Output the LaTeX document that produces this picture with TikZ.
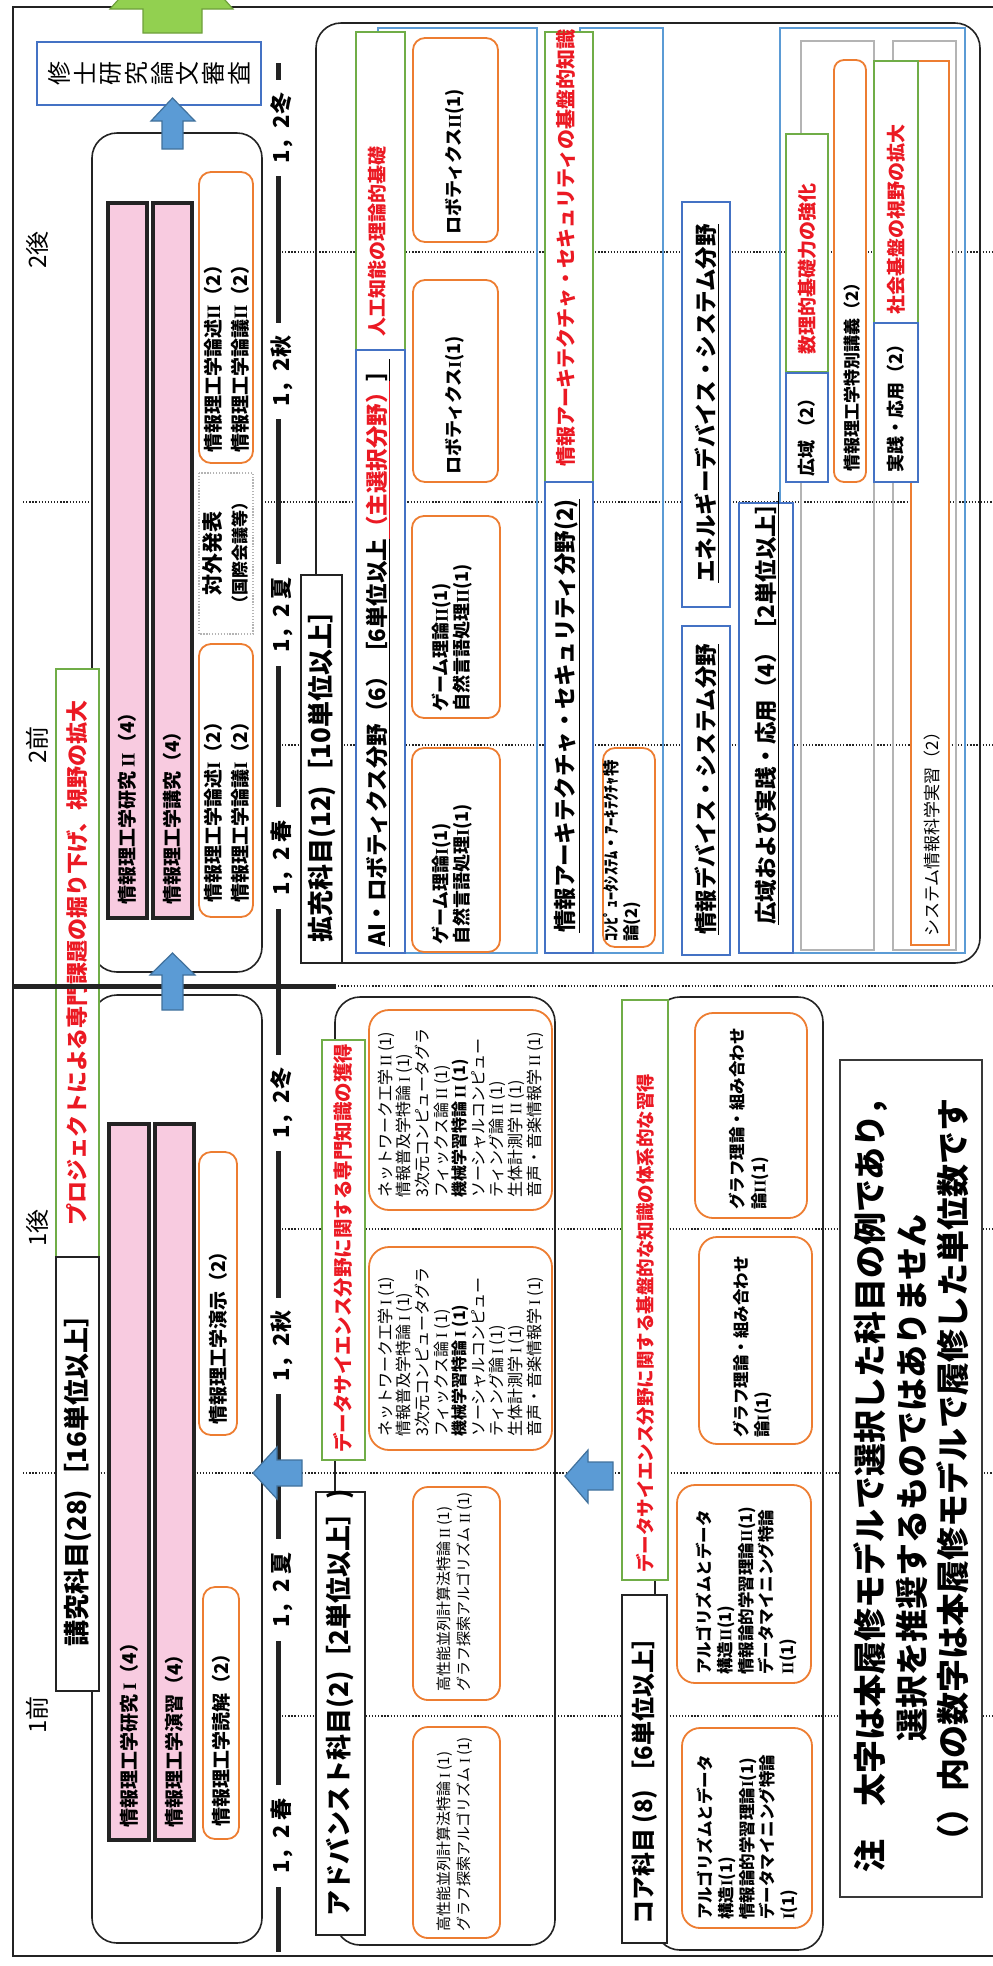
\documentclass[tikz,border=0pt]{standalone}
\usepackage{fontspec}
\setmainfont{Noto Sans CJK JP}
\newfontfamily\rmser{Liberation Serif}
\newcommand\RI{{\rmser I}}
\newcommand\RII{{\rmser II}}
\newcommand\fs[2]{\fontsize{#1}{#2}\selectfont}
\definecolor{org}{RGB}{237,125,49}
\definecolor{grn}{RGB}{112,173,71}
\definecolor{bl}{RGB}{91,155,213}
\definecolor{dbl}{RGB}{68,114,196}
\definecolor{rd}{RGB}{235,25,35}
\definecolor{pnk}{RGB}{248,203,224}
\definecolor{gry}{RGB}{180,180,180}
\definecolor{blk}{RGB}{35,35,35}
\definecolor{arrb}{RGB}{91,155,213}
\definecolor{arrbd}{RGB}{65,113,156}
\definecolor{arrg}{RGB}{146,208,80}
\definecolor{arrgd}{RGB}{110,160,60}
\begin{document}
\begin{tikzpicture}[x=1pt,y=-1pt,
 txt/.style={rotate=90,inner sep=0pt,anchor=west,align=left},
 ctxt/.style={rotate=90,inner sep=0pt,anchor=center,align=center},
 redt/.style={text=rd},
 obox/.style={draw=org,line width=1.8pt,fill=white,rounded corners=#1},
 obox/.default=12pt,
 gbox/.style={draw=grn,line width=2pt,fill=white},
 bbox/.style={draw=dbl,line width=1.6pt,fill=white},
 lbox/.style={draw=bl,line width=1.6pt},
 kbox/.style={draw=blk,line width=1.6pt,fill=white},
 rbox/.style={draw=blk,line width=1.6pt,rounded corners=25pt},
 pbar/.style={draw=blk,line width=3.5pt,fill=pnk},
 gybox/.style={draw=gry,line width=2pt},
 dotl/.style={draw=blk,line width=1.3pt,dash pattern=on 1.3pt off 1.8pt},
 uarr/.style={fill=arrb,draw=arrbd,line width=1.2pt},
 tlab/.style={ctxt,fill=white,inner xsep=13pt,inner ysep=1pt,font=\bfseries\fs{22}{24}},
 sect/.style={txt,font=\bfseries\fs{22.5}{26}},
 grt/.style={txt,redt,font=\bfseries\fs{19}{22}},
]
\useasboundingbox (0,0) rectangle (993,1966);
\clip (0,0) rectangle (993,1966);

% dotted lines
\foreach \yy in {502,1473} \draw[dotl] (23,\yy) -- (993,\yy);
\draw[dotl] (335,986) -- (993,986);
\foreach \yy in {252,745,1229,1716} \draw[dotl] (282,\yy) -- (993,\yy);

% frame
\draw[line width=2.5pt,blk] (993,7) -- (13,7) -- (13,1956) -- (993,1956);

% green arrow and thesis box
\draw[fill=arrg,draw=arrgd,line width=1.2pt] (143,33) -- (143,9) -- (110,9) -- (171.5,-60) -- (233,9) -- (202,9) -- (202,33) -- cycle;
\draw[bbox] (37,42) rectangle (261,105);
\node[ctxt,font=\fs{24}{25.7}] (thesis) at (149,73.5) {修\\士\\研\\究\\論\\文\\審\\査};

% semester labels
\node[ctxt,font=\fs{24}{26}] (l2b) at (37,250) {2後};
\node[ctxt,font=\fs{24}{26}] (l2a) at (37,745) {2前};
\node[ctxt,font=\fs{24}{26}] (l1b) at (37,1228) {1後};
\node[ctxt,font=\fs{24}{26}] (l1a) at (37,1715) {1前};

% kokyu area
\draw[rbox,fill=white] (92,133) rectangle (262,972);
\draw[rbox] (92,995) rectangle (262,1943);
\draw[gbox] (56,669) rectangle (99,1257);
\draw[kbox] (56,1257) rectangle (99,1691);
\node[ctxt,redt,font=\bfseries\fs{22}{24}] (proj) at (77.5,963) {プロジェクトによる専門課題の掘り下げ、視野の拡大};
\node[ctxt,font=\bfseries\fs{26}{28}] (kokyu) at (77.5,1474) {講究科目(28)［16単位以上］};

\draw[pbar] (108,203) rectangle (147,918);
\draw[pbar] (153,203) rectangle (192,918);
\draw[pbar] (109,1124) rectangle (149,1840);
\draw[pbar] (155,1124) rectangle (194,1840);
\node[txt,font=\bfseries\fs{19}{22}] (y2r) at (127.5,905) {情報理工学研究 \RII（4）};
\node[txt,font=\bfseries\fs{19}{22}] (y2k) at (172.5,905) {情報理工学講究（4）};
\node[txt,font=\bfseries\fs{19}{22}] (y1r) at (129,1828) {情報理工学研究 \RI（4）};
\node[txt,font=\bfseries\fs{19}{22}] (y1e) at (174.5,1828) {情報理工学演習（4）};

\draw[obox] (199,172) rectangle (253,463);
\node[txt,font=\bfseries\fs{19}{27}] (ron2) at (226.5,453) {情報理工学論述\RII（2）\\情報理工学論議\RII（2）};
\draw[draw=gry,line width=1.3pt,dash pattern=on 1.3pt off 1.6pt,fill=white] (199,473) rectangle (253,634);
\node[ctxt,font=\bfseries\fs{21}{24}] (taigai) at (213,553) {対外発表};
\node[ctxt,font=\bfseries\fs{17}{20}] (kokusai) at (240,553) {（国際会議等）};
\draw[obox] (199,644) rectangle (253,917);
\node[txt,font=\bfseries\fs{19}{27}] (ron1) at (226.5,903) {情報理工学論述\RI（2）\\情報理工学論議\RI（2）};
\draw[obox] (199,1152) rectangle (237,1435);
\node[txt,font=\bfseries\fs{19}{22}] (enji) at (218,1425) {情報理工学演示（2）};
\draw[obox] (203,1587) rectangle (239,1839);
\node[txt,font=\bfseries\fs{19}{22}] (dokkai) at (221,1827) {情報理工学読解（2）};

% kakuju area
\draw[rbox] (316,23) rectangle (980,963);
\draw[kbox] (301,575) rectangle (342,963);
\node[ctxt,font=\bfseries\fs{26}{28}] (kakuju) at (321.5,770) {拡充科目(12)［10単位以上］};

% AI
\draw[lbox] (378,28) rectangle (537,953);
\draw[gbox] (356,32) rectangle (405,350);
\draw[bbox] (356,350) rectangle (405,953);
\node[grt] (aig) at (377,337) {人工知能の理論的基礎};
\node[sect] (ait) at (378,947) {\underline{AI・ロボティクス分野（6）［6単位以上}\textcolor{rd}{\underline{（主選択分野）}}\underline{］}};
\draw[obox] (413,38) rectangle (498,242);
\node[txt,font=\bfseries\fs{18}{21}] (robo2) at (455,235) {ロボティクス\RII(1)};
\draw[obox] (413,280) rectangle (498,482);
\node[txt,font=\bfseries\fs{18}{21}] (robo1) at (455,475) {ロボティクス\RI(1)};
\draw[obox] (412,516) rectangle (500,718);
\node[txt,font=\bfseries\fs{18}{21}] (game2) at (452.5,712) {ゲーム理論\RII(1)\\自然言語処理\RII(1)};
\draw[obox] (412,748) rectangle (500,952);
\node[txt,font=\bfseries\fs{18}{21}] (game1) at (452.5,945) {ゲーム理論\RI(1)\\自然言語処理\RI(1)};

% Architecture
\draw[lbox] (580,28) rectangle (663,953);
\draw[gbox] (545,32) rectangle (593,482);
\draw[bbox] (545,482) rectangle (593,953);
\node[txt,redt,font=\bfseries\fs{20}{22}] (archg) at (566,467) {情報アーキテクチャ・セキュリティの基盤的知識};
\node[sect] (archt) at (567,933) {\underline{情報アーキテクチャ・セキュリティ分野(2)}};
\draw[obox] (603,748) rectangle (655,947);
\node[txt,font=\bfseries\fs{16.5}{20}] (comp) at (622,942) {ｺﾝﾋﾟｭｰﾀｼｽﾃﾑ・ｱｰｷﾃｸﾁｬ特\\論(2)};

% Devices
\draw[bbox] (682,202) rectangle (730,607);
\node[sect] (energy) at (707,583) {\underline{エネルギーデバイス・システム分野}};
\draw[bbox] (682,626) rectangle (730,955);
\node[sect] (device) at (707,935) {\underline{情報デバイス・システム分野}};

% Wide / practice
\draw[lbox] (780,28) rectangle (965,953);
\draw[gybox] (801,41) rectangle (874,950);
\draw[gybox] (893,41) rectangle (956,950);
\draw[draw=org,line width=1.8pt,fill=white] (911,61) rectangle (949,945);
\node[txt,font=\fs{17}{20}] (jisshu) at (932,937) {システム情報科学実習（2）};
\draw[bbox] (739,503) rectangle (793,953);
\node[sect] (widet) at (767,925) {\underline{広域および実践・応用（4）［2単位以上］}};
\draw[gbox] (786,134) rectangle (828,372);
\draw[bbox] (786,373) rectangle (828,482);
\node[grt] (suri) at (807,355) {数理的基礎力の強化};
\node[txt,font=\bfseries\fs{18}{20}] (koiki) at (807,477) {広域 （2）};
\draw[obox=10pt] (834,60) rectangle (866,482);
\node[txt,font=\bfseries\fs{17}{20}] (tokubetsu) at (852,472) {情報理工学特別講義（2）};
\draw[gbox] (874,61) rectangle (918,323);
\draw[bbox] (874,323) rectangle (918,482);
\node[grt] (shakai) at (896,315) {社会基盤の視野の拡大};
\node[txt,font=\bfseries\fs{18}{20}] (jissen) at (896,473) {実践・応用（2）};

% DS / advanced
\draw[rbox] (335,997) rectangle (555,1945);
\draw[gbox] (322,1040) rectangle (365,1460);
\node[txt,redt,font=\bfseries\fs{19.5}{22}] (dsg) at (343,1453) {データサイエンス分野に関する専門知識の獲得};
\draw[kbox] (316,1492) rectangle (365,1935);
\node[txt,font=\bfseries\fs{26}{28}] (adt) at (340,1917) {アドバンスト科目(2)［2単位以上］)};
\draw[obox=20pt] (369,1010) rectangle (552,1210);
\node[txt,font=\fs{16}{18.6}] (ds2) at (460.5,1198) {ネットワーク工学 \RII{} (1)\\情報普及学特論 \RI{} (1)\\3次元コンピュータグラ\\フィックス論 \RII{} (1)\\{\bfseries 機械学習特論 \RII{} (1)}\\ソーシャルコンピュー\\ティング論 \RII{} (1)\\生体計測学 \RII{} (1)\\音声・音楽情報学 \RII{} (1)};
\draw[obox=20pt] (369,1247) rectangle (552,1450);
\node[txt,font=\fs{16}{18.6}] (ds1) at (460.5,1437) {ネットワーク工学 \RI{} (1)\\情報普及学特論 \RI{} (1)\\3次元コンピュータグラ\\フィックス論 \RI{} (1)\\{\bfseries 機械学習特論 \RI{} (1)}\\ソーシャルコンピュー\\ティング論 \RI{} (1)\\生体計測学 \RI{} (1)\\音声・音楽情報学 \RI{} (1)};
\draw[obox=15pt] (413,1487) rectangle (500,1700);
\node[txt,font=\fs{15}{20}] (adv2) at (455,1692) {高性能並列計算法特論 \RII{} (1)\\グラフ探索アルゴリズム \RII{} (1)};
\draw[obox=15pt] (413,1727) rectangle (500,1938);
\node[txt,font=\fs{15}{20}] (adv1) at (455,1932) {高性能並列計算法特論 \RI{} (1)\\グラフ探索アルゴリズム \RI{} (1)};

% Core
\draw[rbox] (655,997) rectangle (823,1950);
\draw[gbox] (622,1000) rectangle (668,1580);
\node[txt,redt,font=\bfseries\fs{18.5}{22}] (coreg) at (645,1573) {データサイエンス分野に関する基盤的な知識の体系的な習得};
\draw[kbox] (622,1595) rectangle (667,1943);
\node[txt,font=\bfseries\fs{24}{26}] (coret) at (645,1925) {コア科目 (8) ［6単位以上］};
\draw[obox=18pt] (695,1013) rectangle (807,1218);
\node[txt,font=\bfseries\fs{16.5}{22}] (graph2) at (749,1210) {グラフ理論・組み合わせ\\論\RII(1)};
\draw[obox=18pt] (699,1237) rectangle (812,1444);
\node[txt,font=\bfseries\fs{16.5}{21}] (graph1) at (752.5,1438) {グラフ理論・組み合わせ\\論\RI(1)};
\draw[obox=18pt] (677,1485) rectangle (811,1683);
\node[txt,font=\bfseries\fs{16.5}{20.7}] (algo2) at (746.5,1675) {アルゴリズムとデータ\\構造\RII(1)\\情報論的学習理論\RII(1)\\データマイニング特論\\\RII(1)};
\draw[obox=18pt] (682,1728) rectangle (812,1928);
\node[txt,font=\bfseries\fs{16.5}{20.7}] (algo1) at (747.5,1920) {アルゴリズムとデータ\\構造\RI(1)\\情報論的学習理論\RI(1)\\データマイニング特論\\\RI(1)};

% note
\draw[draw=blk!90,line width=2.5pt,fill=white] (840,1060) rectangle (982,1897);
\node[ctxt,font=\bfseries\fs{33}{41.5}] (note) at (911.5,1478) {注　太字は本履修モデルで選択した科目の例であり，\\選択を推奨するものではありません\\（）内の数字は本履修モデルで履修した単位数です};

% timeline
\draw[line width=5pt,blk] (278,63) -- (278,1952);
\draw[line width=5pt,blk] (13,986) -- (336,986);
\node[tlab] (t1) at (282,128) {1，2冬};
\node[tlab] (t2) at (282,371) {1，2秋};
\node[tlab] (t3) at (282,615) {1，2 夏};
\node[tlab] (t4) at (282,858) {1，2 春};
\node[tlab] (t5) at (282,1103) {1，2冬};
\node[tlab] (t6) at (282,1346) {1，2秋};
\node[tlab] (t7) at (282,1590) {1，2 夏};
\node[tlab] (t8) at (282,1836) {1，2 春};

% block arrows
\draw[uarr] (162,149) -- (162,121) -- (151,121) -- (172.5,98) -- (195,121) -- (183,121) -- (183,149) -- cycle;
\draw[uarr] (162,1010) -- (162,975) -- (150,975) -- (172.5,953) -- (195,975) -- (183,975) -- (183,1010) -- cycle;
\draw[uarr] (302,1460) -- (277,1460) -- (277,1447) -- (253,1473) -- (277,1499) -- (277,1486) -- (302,1486) -- cycle;
\draw[uarr] (613,1462) -- (588,1462) -- (588,1450) -- (565,1476) -- (588,1503) -- (588,1490) -- (613,1490) -- cycle;
\end{tikzpicture}
\end{document}
